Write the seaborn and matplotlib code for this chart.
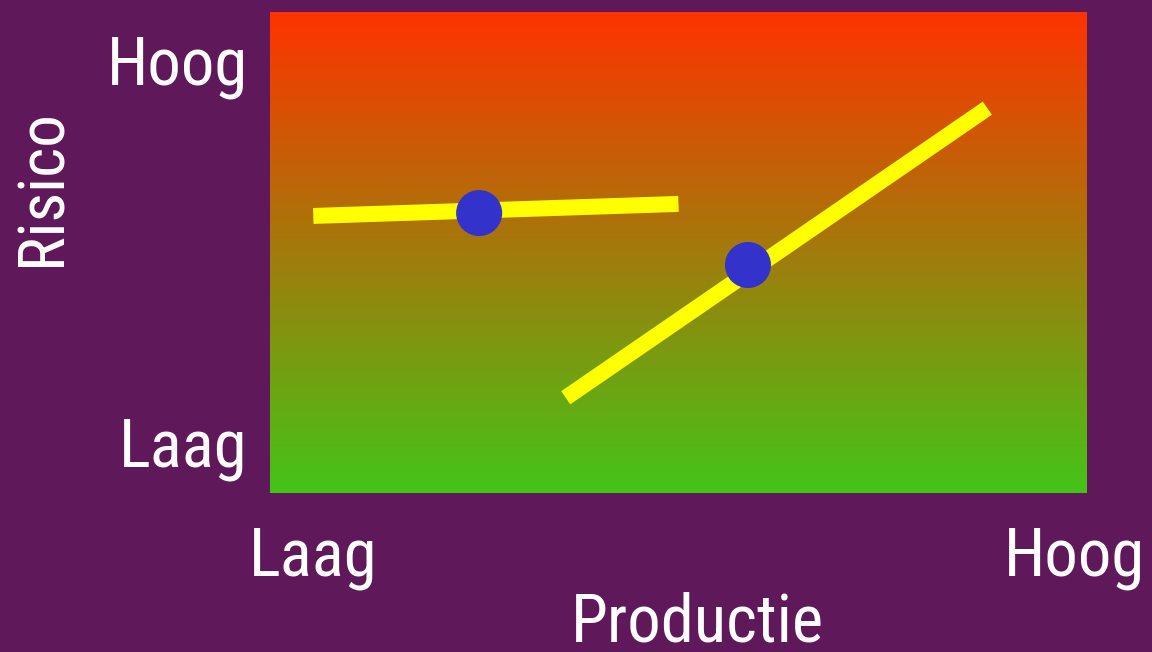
import numpy as np
import pandas as pd
import seaborn as sns
import matplotlib.pyplot as plt
from matplotlib import font_manager
from matplotlib.colors import LinearSegmentedColormap

# line segments (x from low to high production, y risk)
seg_names = ['A', 'A', 'B', 'B']
seg_x = [0.053, 0.50, 0.362, 0.878]
seg_y = [0.576, 0.601, 0.198, 0.800]

# blue points on the segments
dot_x = [0.256, 0.585]
dot_y = [0.582, 0.474]

x_ticks = [0.053, 0.985]
x_labels = ['Laag', 'Hoog']
y_ticks = [0.106, 0.90]
y_labels = ['Laag', 'Hoog']

bg = '#5f1859'

sns.set_theme(style='white')
installed = {f.name for f in font_manager.fontManager.ttflist}
wanted = ['Liberation Sans Narrow', 'DejaVu Sans Condensed', 'Roboto Condensed',
          'Roboto', 'DejaVu Sans']
fams = [f for f in wanted if f in installed] + ['DejaVu Sans']
plt.rcParams['font.family'] = fams

fig = plt.figure(figsize=(11.52, 6.52), dpi=100, facecolor=bg)
ax = fig.add_axes([270 / 1152, 159 / 652, 817 / 1152, 481 / 652])
ax.set_facecolor(bg)

# red-to-green background gradient
cmap = LinearSegmentedColormap.from_list('risk', ['#44c418', '#ff3300'])
grad = np.linspace(0, 1, 256).reshape(-1, 1)
ax.imshow(grad, cmap=cmap, aspect='auto', origin='lower',
          extent=[0, 1, 0, 1], zorder=0)

lines = pd.DataFrame({'seg': seg_names, 'x': seg_x, 'y': seg_y})
sns.lineplot(data=lines, x='x', y='y', units='seg', estimator=None,
             color='#ffff00', linewidth=11.5, ax=ax, zorder=2,
             solid_capstyle='butt')

dots = pd.DataFrame({'x': dot_x, 'y': dot_y})
sns.scatterplot(data=dots, x='x', y='y', color='#3333cc', s=1100,
                edgecolor='none', ax=ax, zorder=3)

ax.set_xlim(0, 1)
ax.set_ylim(0, 1)
for s in ax.spines.values():
    s.set_visible(False)

ax.set_xticks(x_ticks)
ax.set_xticklabels(x_labels)
ax.set_yticks(y_ticks)
ax.set_yticklabels(y_labels)
ax.tick_params(axis='x', length=0, pad=24, labelsize=48, labelcolor='white')
ax.tick_params(axis='y', length=0, pad=16, labelsize=48, labelcolor='white')

ax.set_xlabel('Productie', fontsize=48, color='white', va='center')
ax.xaxis.set_label_coords(0.523, -0.272)
ax.set_ylabel('Risico', fontsize=47, color='white', va='center')
ax.yaxis.set_label_coords(-0.279, 0.636)

fig.savefig('out.png', dpi=100, facecolor=bg)
